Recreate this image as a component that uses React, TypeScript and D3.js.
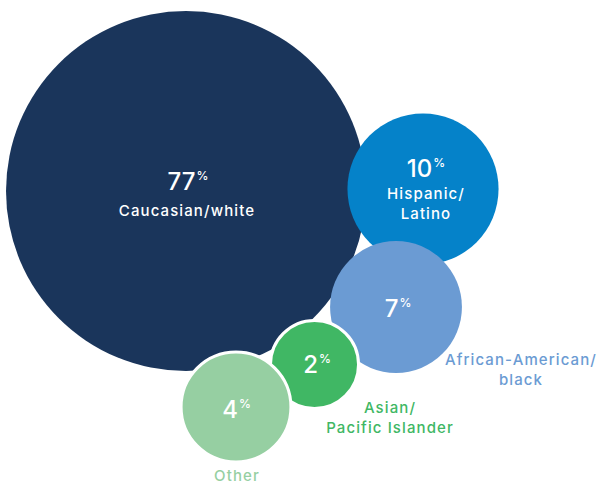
import React from "react";
import * as d3 from "d3";

// ---- data ----
const categories = ["Caucasian/white", "Hispanic/Latino", "African-American/black", "Asian/Pacific Islander", "Other"];
const values = [77, 10, 7, 2, 4];
const labelLines = [["Caucasian/white"], ["Hispanic/", "Latino"], ["African-American/", "black"], ["Asian/", "Pacific Islander"], ["Other"]];
const colors = ["#1a355b", "#0582c9", "#6b9bd3", "#40b764", "#96cfa2"];

// ---- layout (bubble centres, label anchors) ----
const centers: [number, number][] = [[186, 191], [423, 189], [396, 307], [314.5, 364.5], [236, 407]];
const valueAnchors: [number, number][] = [[188, 190], [426, 177], [398, 317], [317, 373], [236.5, 418]];
const labelAnchors: [number, number][] = [[187, 216], [426, 199], [521, 365], [390, 413], [237, 481]];
const labelInside = [true, true, false, false, false];
const stroked = [false, false, false, true, true];

const W = 600, H = 485;
const FONT = "Inter, 'DejaVu Sans', sans-serif";

export default function App() {
  const r = d3.scaleSqrt().domain([0, 77]).range([16.7, 180]);
  const idx = d3.range(categories.length);
  return (
    <svg width={W} height={H} style={{ position: "absolute", left: 0, top: 0, background: "#fff" }} fontFamily={FONT}>
      {idx.map((i) => (
        <circle
          key={"c" + i}
          cx={centers[i][0]}
          cy={centers[i][1]}
          r={r(values[i]) + (stroked[i] ? 1 : 0)}
          fill={colors[i]}
          stroke={stroked[i] ? "#fff" : "none"}
          strokeWidth={stroked[i] ? 3 : 0}
        />
      ))}
      {idx.map((i) => (
        <text key={"v" + i} x={valueAnchors[i][0]} y={valueAnchors[i][1]} textAnchor="middle" fill="#fff" fontSize={24} fontWeight={500}>
          <tspan>{values[i]}</tspan>
          <tspan fontSize={12} dy={-10} dx={1}>%</tspan>
        </text>
      ))}
      {idx.map((i) => (
        <text
          key={"l" + i}
          x={labelAnchors[i][0]}
          y={labelAnchors[i][1]}
          textAnchor="middle"
          fill={labelInside[i] ? "#fff" : colors[i]}
          fontSize={15}
          fontWeight={500}
          letterSpacing={1.1}
        >
          {labelLines[i].map((line, j) => (
            <tspan key={j} x={labelAnchors[i][0]} dy={j === 0 ? 0 : 20}>
              {line}
            </tspan>
          ))}
        </text>
      ))}
    </svg>
  );
}
